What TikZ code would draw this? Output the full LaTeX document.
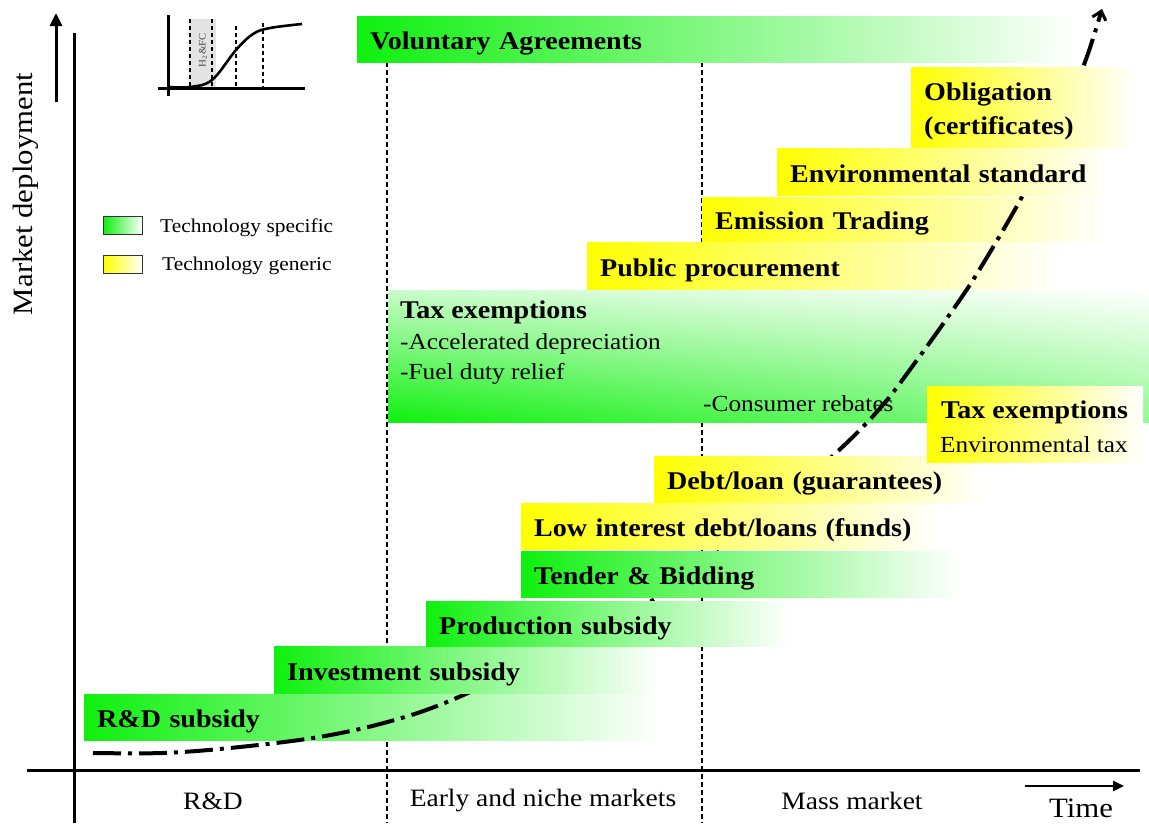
\documentclass[tikz,border=0pt]{standalone}
\usepackage{fontspec}
\setmainfont{Liberation Serif}[FakeStretch=1.1]
\usetikzlibrary{arrows.meta,shadings}
\definecolor{bargreen}{RGB}{15,240,15}
\definecolor{baryellow}{RGB}{255,255,0}
\begin{document}
\begin{tikzpicture}[x=1pt,y=-1pt,
  barbase/.style={anchor=north west, inner xsep=13pt, inner ysep=0pt, align=left,
    font=\bfseries\fontsize{25.5}{34}\selectfont},
  bar/.style={barbase, text height=22pt, text depth=1pt},
  gbar/.style={bar, left color=bargreen, right color=white},
  ybar/.style={bar, left color=baryellow, right color=white},
  subtxt/.style={anchor=west, inner sep=0pt, font=\fontsize{23}{26}\selectfont},
  bigtxt/.style={anchor=west, inner sep=0pt, font=\bfseries\fontsize{25.5}{30}\selectfont},
  axis/.style={line width=3pt},
  divider/.style={line width=1.2pt, dash pattern=on 5pt off 3pt},
  phase/.style={font=\fontsize{25}{28}\selectfont},
  legtxt/.style={anchor=west, inner sep=0pt, font=\fontsize{19.5}{22}\selectfont},
  legbox/.style={draw=black!80, line width=0.8pt, minimum width=39pt, minimum height=18pt, inner sep=0pt, anchor=north west},
  trend/.style={line width=4pt, dash pattern=on 28pt off 7pt on 4pt off 7pt},
]
\useasboundingbox (0,0) rectangle (1149,823);
\fill[white] (0,0) rectangle (1149,823);

% dividers and axes
\draw[divider] (387,62) -- (387,823);
\draw[divider] (702,62) -- (702,823);
\draw[axis] (27,770) -- (1140,770);
\draw[axis] (74,33) -- (74,823);
\draw[axis, -{Triangle[length=13pt,width=12pt]}] (56,102) -- (56,13);
\draw[line width=2.5pt, -{Triangle[length=11pt,width=10pt]}] (1025,786) -- (1124,786);
\node[rotate=90, font=\fontsize{28}{30}\selectfont] (ylab) at (26,194) {Market deployment};
\node[font=\fontsize{28}{30}\selectfont] (tlab) at (1081,808) {Time};
\node[phase] (p1) at (213,801) {R\&D};
\node[phase] (p2) at (543,801) {Early and niche markets};
\node[phase] (p3) at (852,801) {Mass market};

% inset
\fill[gray!22] (189,19) rectangle (216,88);
\draw[line width=1.5pt, dash pattern=on 4pt off 3pt] (190,19) -- (190,88);
\draw[line width=1.5pt, dash pattern=on 4pt off 3pt] (212,19) -- (212,88);
\draw[line width=1.5pt, dash pattern=on 4pt off 3pt] (236,26) -- (236,88);
\draw[line width=1.5pt, dash pattern=on 4pt off 3pt] (263,23) -- (263,88);
\node[rotate=90, text=black!70, font=\fontsize{10}{10}\selectfont] (h2) at (203,50) {H\textsubscript{2}\&FC};
\draw[line width=3pt] (168,15) -- (168,96);
\draw[line width=3pt] (158,88) -- (305,88);
\draw[line width=2.6pt] plot[smooth, tension=0.6] coordinates {(170,87) (190,87) (212,80) (236,50) (253,34) (270,28) (302,24)};

% legend
\node[legbox, left color=bargreen, right color=white] (lg1) at (103,216) {};
\node[legbox, left color=baryellow, right color=white] (lg2) at (103,255) {};
\node[legtxt] (lt1) at (160,228) {Technology specific};
\node[legtxt] (lt2) at (162,266) {Technology generic};

% bars below the curve
\node[gbar, minimum width=576pt, minimum height=46pt, text width=550pt] (rd) at (84,694) {R\&D subsidy};
\node[anchor=north west, minimum width=761pt, minimum height=132pt, inner sep=0pt,
  lower left=bargreen, upper left=bargreen!22, lower right=bargreen!45, upper right=white] (taxg) at (388,290) {};
\node[bigtxt] (taxgt) at (400,312) {Tax exemptions};
\node[subtxt] (acc) at (400,344) {-Accelerated depreciation};
\node[subtxt] (fuel) at (400,374) {-Fuel duty relief};
\node[subtxt] (cons) at (703,404) {-Consumer rebates};
\node[ybar, minimum width=473pt, minimum height=47pt, text width=447pt] (pub) at (587,242) {Public procurement};
\node[ybar, minimum width=405pt, minimum height=44pt, text width=379pt] (emis) at (702,197) {Emission Trading};
\node[gbar, minimum width=720pt, minimum height=46pt, text width=694pt] (vol) at (357,16) {Voluntary Agreements};

% market deployment curve
\draw[trend, -{Straight Barb[length=8pt,width=14pt,line width=3pt]}] plot[smooth, tension=0.55] coordinates {
  (93,753) (163,753) (230,748) (313,738) (380,724) (447,702) (560,650) (653,600)
  (750,527) (837,452) (882,406) (917,360) (950,314) (978,272) (1023,195)
  (1060,120) (1085,62) (1102,9)};

% bars above the curve
\node[gbar, minimum width=386pt, minimum height=47pt, text width=360pt] (inv) at (274,646) {Investment subsidy};
\node[gbar, minimum width=364pt, minimum height=45pt, text width=338pt] (prod) at (426,601) {Production subsidy};
\node[gbar, minimum width=440pt, minimum height=46pt, text width=414pt] (tend) at (521,551) {Tender \& Bidding};
\node[ybar, minimum width=420pt, minimum height=46pt, text width=394pt] (low) at (521,503) {Low interest debt/loans (funds)};
\node[ybar, minimum width=330pt, minimum height=46pt, text width=304pt] (debt) at (654,456) {Debt/loan (guarantees)};
\node[anchor=north west, minimum width=216pt, minimum height=76pt, inner sep=0pt,
  left color=baryellow, right color=white] (taxy) at (927,386) {};
\node[bigtxt] (taxyt) at (941,412) {Tax exemptions};
\node[subtxt] (envtax) at (940,445) {Environmental tax};
\node[ybar, minimum width=333pt, minimum height=47pt, text width=307pt] (envs) at (777,148) {Environmental standard};
\node[barbase, left color=baryellow, right color=white, text depth=32pt,
  minimum width=224pt, minimum height=80pt, text width=198pt] (oblig) at (911,67) {Obligation\\(certificates)};
\end{tikzpicture}
\end{document}
